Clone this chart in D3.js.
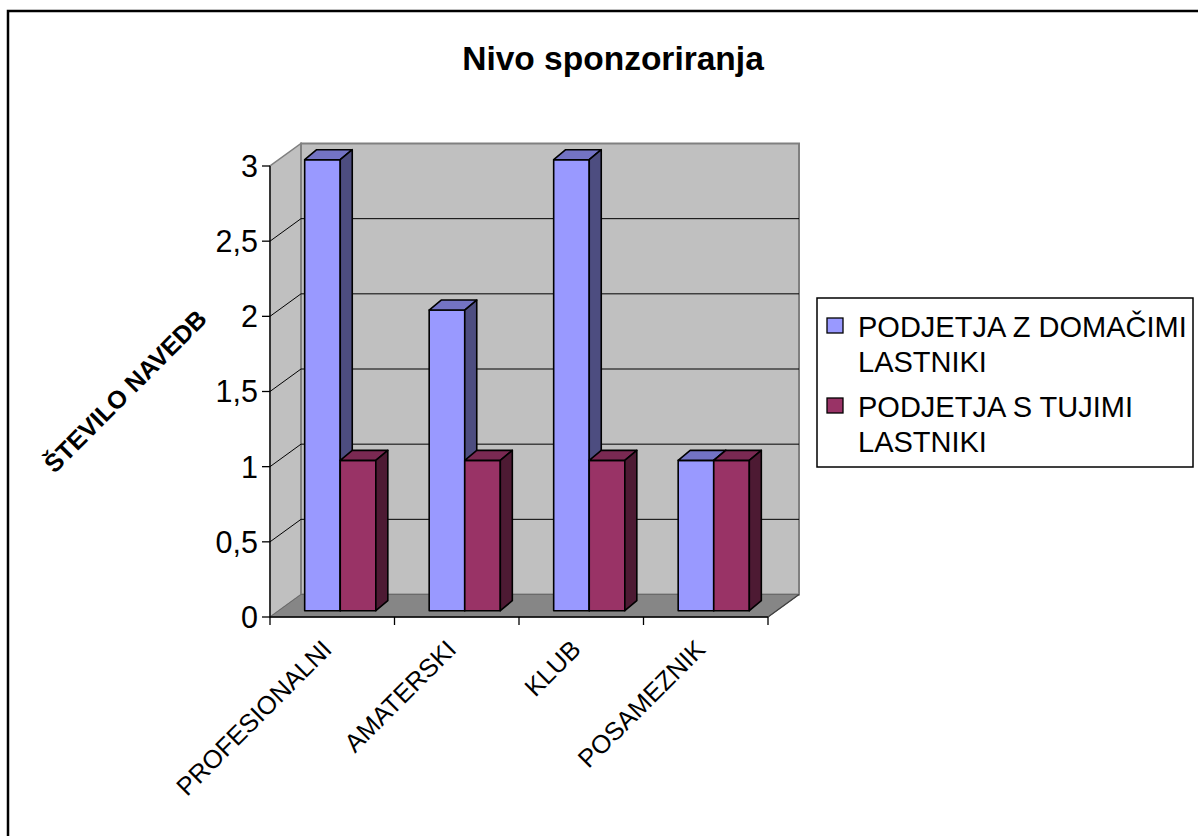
<!DOCTYPE html>
<html>
<head>
<meta charset="utf-8">
<script src="https://cdn.jsdelivr.net/npm/d3@7"></script>
<style>
  html, body { margin: 0; padding: 0; background: #fff; }
  svg { display: block; font-family: "Liberation Sans", Arial, sans-serif; }
</style>
</head>
<body>
<svg id="chart" width="1198" height="836"></svg>
<script>
// Chart data
const title = "Nivo sponzoriranja";
const yTitle = "ŠTEVILO NAVEDB";
const categories = ["PROFESIONALNI", "AMATERSKI", "KLUB", "POSAMEZNIK"];
const domaci = [3, 2, 3, 1];
const tuji = [1, 1, 1, 1];
const seriesLabels = [["PODJETJA Z DOMAČIMI", "LASTNIKI"], ["PODJETJA S TUJIMI", "LASTNIKI"]];
const yTicks = [0, 0.5, 1, 1.5, 2, 2.5, 3];

const series = [
  { values: domaci, front: "#9999ff", top: "#7373c4", side: "#4d4d80" },
  { values: tuji,   front: "#993366", top: "#7a2952", side: "#4d1a33" }
];

const svg = d3.select("#chart");

// outer frame (top/left edges visible, runs off the right and bottom)
svg.append("rect")
  .attr("x", 8).attr("y", 11).attr("width", 1300).attr("height", 1000)
  .attr("fill", "none").attr("stroke", "#000").attr("stroke-width", 2.5);

// front plane of the 3D box
const x0 = 270, x1 = 768, yBase = 617, yTop = 166;
const depth = { dx: 31, dy: -22.5 };     // full depth of the walls
const barShift = { dx: 8, dy: -6.3 };    // where the bar fronts sit inside the depth
const barDepth = { dx: 12, dy: -10 };    // thickness of each bar

const y = d3.scaleLinear().domain([0, 3]).range([yBase, yTop]);
const x = d3.scaleBand().domain(categories).range([x0, x1])
  .paddingInner(0.4286).paddingOuter(0.2143);
const xs = d3.scaleBand().domain([0, 1]).range([0, x.bandwidth()]);

const locale = d3.formatLocale({ decimal: ",", thousands: ".", grouping: [3], currency: ["", " €"] });
const fmt = v => locale.format("~g")(v);

const poly = pts => "M" + pts.map(p => p.join(",")).join("L") + "Z";

// left wall
svg.append("path")
  .attr("d", poly([[x0, y(0)], [x0, y(3)], [x0 + depth.dx, y(3) + depth.dy], [x0 + depth.dx, y(0) + depth.dy]]))
  .attr("fill", "#c0c0c0").attr("stroke", "#808080").attr("stroke-width", 1.5);
// back wall
svg.append("path")
  .attr("d", poly([[x0 + depth.dx, y(0) + depth.dy], [x0 + depth.dx, y(3) + depth.dy], [x1 + depth.dx, y(3) + depth.dy], [x1 + depth.dx, y(0) + depth.dy]]))
  .attr("fill", "#c0c0c0").attr("stroke", "#808080").attr("stroke-width", 2);
// floor
svg.append("path")
  .attr("d", poly([[x0, y(0)], [x1, y(0)], [x1 + depth.dx, y(0) + depth.dy], [x0 + depth.dx, y(0) + depth.dy]]))
  .attr("fill", "#868686").attr("stroke", "#6a6a6a").attr("stroke-width", 1);

// gridlines on left and back walls
const grid = svg.append("g").attr("stroke", "#000").attr("stroke-width", 1).attr("fill", "none");
yTicks.filter(t => t > 0 && t < 3).forEach(t => {
  grid.append("path").attr("d", `M${x0},${y(t)}L${x0 + depth.dx},${y(t) + depth.dy}L${x1 + depth.dx},${y(t) + depth.dy}`);
});

// bars
const barsG = svg.append("g").attr("stroke", "#000").attr("stroke-width", 1.6).attr("stroke-linejoin", "round");
categories.forEach((c, i) => {
  series.forEach((s, k) => {
    const v = s.values[i];
    const l = x(c) + xs(k) + barShift.dx;
    const r = l + xs.bandwidth();
    const b = y(0) + barShift.dy;
    const t = y(v) + barShift.dy;
    const g = barsG.append("g");
    g.append("path").attr("d", poly([[l, b], [l, t], [r, t], [r, b]])).attr("fill", s.front);
    g.append("path").attr("d", poly([[l, t], [l + barDepth.dx, t + barDepth.dy], [r + barDepth.dx, t + barDepth.dy], [r, t]])).attr("fill", s.top);
    g.append("path").attr("d", poly([[r, t], [r + barDepth.dx, t + barDepth.dy], [r + barDepth.dx, b + barDepth.dy], [r, b]])).attr("fill", s.side);
  });
});

// axes
const axes = svg.append("g").attr("stroke", "#000").attr("stroke-width", 1.3);
axes.append("line").attr("x1", x0).attr("x2", x0).attr("y1", y(3)).attr("y2", y(0));
axes.append("line").attr("x1", x0).attr("x2", x1).attr("y1", y(0)).attr("y2", y(0));
axes.append("line").attr("x1", x1).attr("x2", x1 + depth.dx).attr("y1", y(0)).attr("y2", y(0) + depth.dy).attr("stroke", "#404040");
yTicks.forEach(t => {
  axes.append("line").attr("x1", x0 - 8).attr("x2", x0).attr("y1", y(t)).attr("y2", y(t));
});
const step = x.step();
const bounds = categories.map(c => x(c) - x.paddingInner() * step / 2).concat([x1]);
bounds.forEach(bx => {
  axes.append("line").attr("x1", bx).attr("x2", bx).attr("y1", y(0)).attr("y2", y(0) + 8);
});

// y tick labels
svg.append("g").selectAll("text").data(yTicks).join("text")
  .attr("x", x0 - 12).attr("y", d => y(d)).attr("dy", "0.36em")
  .attr("text-anchor", "end").attr("font-size", 30.5).attr("fill", "#000")
  .text(fmt);

// category labels
svg.append("g").selectAll("text").data(categories).join("text")
  .attr("text-anchor", "end").attr("font-size", 25.5).attr("fill", "#000")
  .attr("transform", c => `translate(${x(c) + x.bandwidth() / 2 + 1},${651}) rotate(-45)`)
  .text(d => d);

// titles
svg.append("text").attr("x", 613).attr("y", 70).attr("text-anchor", "middle")
  .attr("font-size", 33.5).attr("font-weight", "bold").text(title);
svg.append("text").attr("text-anchor", "middle").attr("dominant-baseline", "central")
  .attr("font-size", 25).attr("font-weight", "bold")
  .attr("transform", "translate(125,391) rotate(-45)").text(yTitle);

// legend
const legend = svg.append("g");
legend.append("rect").attr("x", 817).attr("y", 298).attr("width", 376).attr("height", 169)
  .attr("fill", "#fff").attr("stroke", "#000").attr("stroke-width", 1.5);
const legendTop = [318, 398];
series.forEach((s, k) => {
  legend.append("rect").attr("x", 827).attr("y", legendTop[k]).attr("width", 16).attr("height", 15)
    .attr("fill", s.front).attr("stroke", "#000").attr("stroke-width", 1.3);
  seriesLabels[k].forEach((line, j) => {
    legend.append("text").attr("x", 858).attr("y", legendTop[k] + 19 + j * 35)
      .attr("font-size", 29).attr("fill", "#000").text(line);
  });
});
</script>
</body>
</html>
